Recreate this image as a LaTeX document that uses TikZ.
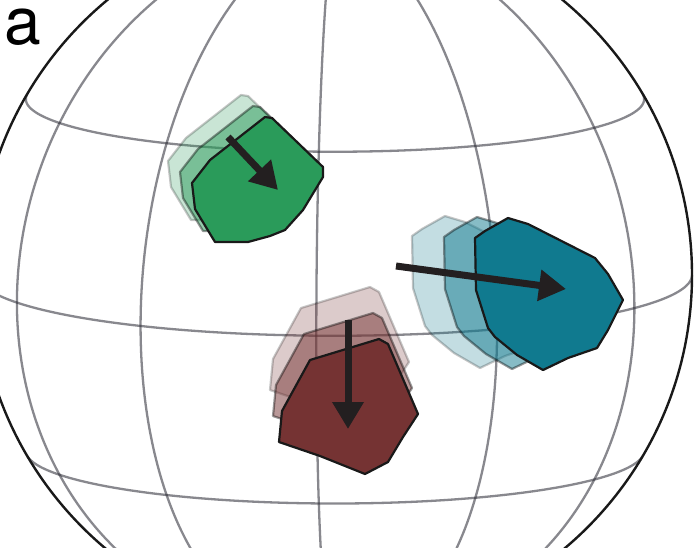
\documentclass[tikz,border=0pt]{standalone}
\usepackage{fontspec}
\setmainfont{TeX Gyre Heros}
\usetikzlibrary{arrows.meta}
\definecolor{gridc}{RGB}{40,40,50}
\definecolor{limbc}{RGB}{25,25,25}
\definecolor{plgreen}{RGB}{42,155,90}
\definecolor{plteal}{RGB}{16,122,143}
\definecolor{plmaroon}{RGB}{117,51,51}
\definecolor{arrc}{RGB}{35,31,32}
\begin{document}
\begin{tikzpicture}[x=1pt,y=-1pt,
 gridline/.style={draw=gridc,draw opacity=0.55,line width=2.3pt},
 limb/.style={draw=limbc,line width=2.4pt},
 ghostlight/.style={fill=#1,fill opacity=0.25,draw=black,draw opacity=0.22,line width=2.2pt,line join=round},
 ghostmid/.style={fill=#1,fill opacity=0.5,draw=black,draw opacity=0.4,line width=2.2pt,line join=round},
 platebody/.style={fill=#1,draw=limbc,line width=2.2pt,line join=round},
 motion/.style={draw=arrc,line width=7pt,-{Triangle[length=27pt,width=30pt]}}
]
\useasboundingbox (0,0) rectangle (696,547);
\clip (0,0) rectangle (696,547);
\fill[white] (0,0) rectangle (696,547);
\def\tilt{9.8}
% latitudes
\foreach \la in {-30,0,30}{
 \pgfmathsetmacro\mz{acos(-tan(\la)*tan(\tilt))}
 \draw[gridline] plot[domain=-\mz:\mz,samples=150,smooth] ({335+357*cos(\la)*sin(\x)},{275-357*(sin(\la)*cos(\tilt)-cos(\la)*cos(\x)*sin(\tilt))});
}
% meridians
\foreach \mer in {-63,-33,-3,27,57}{
 \pgfmathsetmacro\pz{atan(-cos(\mer)/tan(\tilt))}
 \draw[gridline] plot[domain=\pz:90,samples=150,smooth] ({335+357*cos(\x)*sin(\mer)},{275-357*(sin(\x)*cos(\tilt)-cos(\x)*cos(\mer)*sin(\tilt))});
}
% limb
\draw[limb] (335,275) circle[radius=357pt];
% plates
\def\GreenPlate{(265,117) -- (272,118) -- (323,167) -- (323,177) -- (303,210) -- (285,230) -- (270,236) -- (248,242) -- (215,242) -- (195,209) -- (192,183) -- (210,160) -- cycle}
\def\TealPlate{(508,218) -- (528,224) -- (595,258) -- (608,274) -- (623,300) -- (608,330) -- (597,348) -- (568,358) -- (543,370) -- (517,355) -- (495,337) -- (488,328) -- (476,290) -- (475,238) -- (485,231) -- cycle}
\def\MaroonPlate{(310,360) -- (379,339) -- (388,344) -- (418,414) -- (403,437) -- (388,462) -- (365,474) -- (320,456) -- (279,442) -- (282,411) -- cycle}
\path[ghostlight=plgreen,shift={(-24,-22)}] \GreenPlate;
\path[ghostmid=plgreen,shift={(-12,-11)}] \GreenPlate;
\path[platebody=plgreen] \GreenPlate;
\path[ghostlight=plteal,shift={(-63,-2)}] \TealPlate;
\path[ghostmid=plteal,shift={(-31,-1)}] \TealPlate;
\path[platebody=plteal] \TealPlate;
\path[ghostlight=plmaroon,shift={(-9,-52)}] \MaroonPlate;
\path[ghostmid=plmaroon,shift={(-6,-26)}] \MaroonPlate;
\path[platebody=plmaroon] \MaroonPlate;
% motion arrows
\coordinate (gA) at (228,137); \coordinate (gB) at (278,190);
\coordinate (tA) at (396,266); \coordinate (tB) at (566,289);
\coordinate (mA) at (348,320); \coordinate (mB) at (348,429);
\draw[motion] (gA) -- (gB);
\draw[motion] (tA) -- (tB);
\draw[motion] (mA) -- (mB);
% panel label
\node[anchor=base west,inner sep=0pt,font=\fontsize{66}{66}\selectfont] (panel) at (4,44) {a};
\end{tikzpicture}
\end{document}
